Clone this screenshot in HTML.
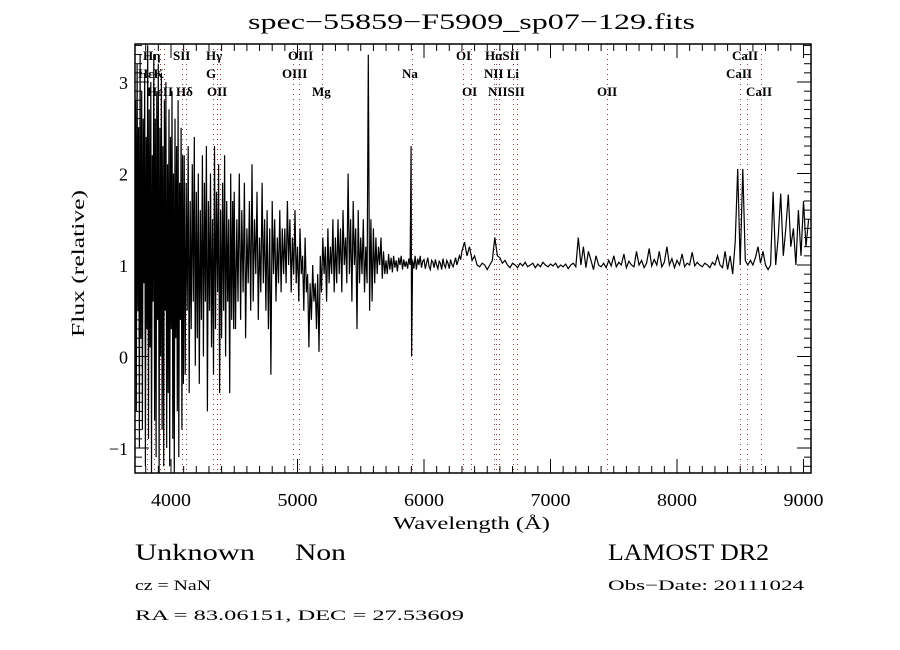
<!DOCTYPE html>
<html><head><meta charset="utf-8"><style>
html,body{margin:0;padding:0;background:#fff;}
svg{display:block;}
text{font-family:"Liberation Serif",serif;fill:#000;}
</style></head><body>
<svg id="chart" width="900" height="650" viewBox="0 0 900 650" xmlns="http://www.w3.org/2000/svg">
<rect width="900" height="650" fill="#fff"/>
<text x="248" y="29" font-size="22" textLength="447" lengthAdjust="spacingAndGlyphs">spec−55859−F5909_sp07−129.fits</text>
<g id="lines"></g>
<g id="spec"></g>
<g id="axes"></g>
<text x="393" y="529" font-size="18" textLength="157" lengthAdjust="spacingAndGlyphs">Wavelength (Å)</text>
<text transform="translate(84,337) rotate(-90)" font-size="18" textLength="147" lengthAdjust="spacingAndGlyphs">Flux (relative)</text>
<text x="135" y="560" font-size="23" textLength="120" lengthAdjust="spacingAndGlyphs">Unknown</text>
<text x="295" y="560" font-size="23" textLength="51" lengthAdjust="spacingAndGlyphs">Non</text>
<text x="608" y="560" font-size="23" textLength="161" lengthAdjust="spacingAndGlyphs">LAMOST DR2</text>
<text x="135" y="590" font-size="15" textLength="76" lengthAdjust="spacingAndGlyphs">cz = NaN</text>
<text x="608" y="590" font-size="15" textLength="196" lengthAdjust="spacingAndGlyphs">Obs−Date: 20111024</text>
<text x="135" y="620" font-size="15" textLength="329" lengthAdjust="spacingAndGlyphs">RA =  83.06151, DEC =  27.53609</text>
</svg>
<script>
// ---- data ----
const segStarts = [3720, 4104, 4500, 4900, 5300, 5700, 5898, 5910, 6300, 6520, 6720, 7220, 7420, 8420, 8580, 8720];
const segSteps  = [6, 8, 10, 10, 10, 10, 4, 10, 20, 20, 20, 20, 20, 20, 20, 20];
const segFlux = [
 [2.8,-0.6,3.2,0.5,2.5,-1.0,3.3,0.2,2.9,-0.8,2.6,0.8,3.1,-1.2,2.4,0.3,3.4,-0.9,2.7,0.1,3.0,-1.3,2.2,0.6,3.3,-0.7,2.6,-1.1,2.9,0.4,3.2,-1.3,2.5,0.0,3.1,-0.8,2.3,-1.2,2.8,0.5,3.0,-1.0,2.1,-0.4,2.7,-1.2,2.4,0.3,2.9,-0.9,2.0,-1.3,2.6,0.2,2.3,-0.6,2.8,-1.1,1.9,0.4,2.5,-0.8,2.2,-0.3],
 [2.2,-0.2,1.9,0.5,2.3,-0.4,1.7,0.3,2.1,0.6,2.4,-0.1,1.8,0.2,2.0,-0.3,1.6,0.4,2.2,0.0,1.9,0.6,2.3,-0.6,1.7,0.5,2.0,0.1,1.5,-0.2,2.3,0.3,1.8,0.7,2.1,-0.4,1.6,0.2,1.9,0.5,2.2,0.0,1.7,0.6,1.5,-0.4,2.0,0.4,1.7,0.3],
 [1.8,0.3,1.5,0.6,2.0,0.4,1.6,0.7,1.9,0.2,1.4,0.8,1.7,0.5,2.1,0.6,1.5,0.9,1.8,0.4,1.3,0.7,1.9,0.8,1.5,0.5,1.6,0.3,1.4,-0.2,1.7,0.9,1.5,0.6,1.3,0.8,1.6,0.7,1.4,0.9],
 [1.4,0.8,1.7,1.0,1.5,0.7,1.3,0.9,1.6,0.8,1.2,0.6,1.4,0.9,1.1,0.5,1.3,0.7,0.9,0.1,0.8,0.4,1.0,0.6,0.8,0.3,0.9,0.05,1.1,0.7,1.3,0.9,1.2,0.6,1.4,0.8,1.2,0.9,1.5,0.7],
 [1.3,0.8,1.5,0.9,1.4,0.7,1.6,1.0,1.3,0.8,2.0,0.9,1.5,0.6,1.7,1.0,1.4,0.3,1.6,0.8,1.3,0.9,1.5,0.7,1.2,0.8,3.3,0.5,1.5,0.6,1.4,0.8,1.3,0.9,1.2,1.0,1.3,0.85,1.15,0.9],
 [1.05,0.9,1.12,0.95,1.08,0.92,1.1,0.97,1.05,0.93,1.08,1.0,1.1,0.95,1.06,0.98,1.04,0.96,1.07,1.0],
 [2.3,0.0],
 [1.05,0.96,1.1,0.95,1.07,1.0,1.1,0.97,1.04,1.06,0.96,1.02,1.08,0.98,0.95,1.05,1.03,0.97,1.06,1.0,0.96,1.04,1.02,0.95,1.07,1.0,0.97,1.05,1.02,0.96,1.06,1.01,0.98,1.03,1.08,1.0,1.05,1.1,1.06],
 [1.15,1.25,1.1,1.2,1.05,1.1,1.0,0.98,1.02,1.0,0.95],
 [1.0,1.05,1.3,1.1,1.08,1.02,1.05,1.0,0.97,1.02],
 [1.0,0.97,1.02,0.99,1.03,0.98,1.0,1.02,0.97,1.01,0.98,1.03,1.0,0.98,1.01,0.99,1.02,0.97,1.0,0.98,1.01,0.96,1.0,1.02,0.98],
 [1.3,1.0,1.2,0.97,1.15,1.05,0.95,1.1,1.0,0.98],
 [1.02,0.97,1.05,0.99,1.1,0.98,1.03,1.0,1.12,0.97,1.04,1.0,0.98,1.15,1.0,1.05,0.97,1.02,1.18,0.99,1.06,1.0,1.15,0.98,1.03,1.2,1.0,1.07,0.97,1.05,1.0,1.12,0.98,1.02,1.0,1.14,0.99,1.03,1.0,0.98,1.02,1.0,0.97,1.03,1.0,1.1,1.0,0.97,1.15,0.95],
 [1.1,0.9,1.25,2.05,1.0,2.05,1.05,1.0],
 [1.05,1.0,1.08,1.2,1.02,1.15,1.0],
 [0.95,1.0,1.8,1.0,1.3,1.78,1.1,1.4,1.77,1.2,1.4,1.0,1.6,1.1,1.7,1.2,1.5]
];
const lineWaves = [3813,3865,3913,3947,4087,4122,4330,4362,4390,4964,5010,5191,5905,6305,6368,6553,6573,6593,6704,6734,7444,8498,8551,8664];
const lineLabels = [
 ["Hη",143,60],["SII",173,60],["Hγ",206,60],["OIII",288,60],["OI",456,60],["HαSII",485,60],["CaII",732,60],
 ["HεK",138,78],["G",206,78],["OIII",282,78],["Na",402,78],["NII Li",484,78],["CaII",726,78],
 ["HeII",147,96],["Hδ",176,96],["OII",207,96],["Mg",312,96],["OI",462,96],["NIISII",488,96],["OII",597,96],["CaII",746,96]
];
const xTicks = [4000,5000,6000,7000,8000,9000];
const yTicks = [-1,0,1,2,3];

// ---- axes ----
const X0=135, X1=811, Y0=44, Y1=473;
const xmin = 4000-36/0.1265, xmax = 4000+640/0.1265;
const ymax = 3+(82-Y0)/91.5, ymin = -1-(Y1-448)/91.5;
function xs(w){return X0+(w-xmin)/(xmax-xmin)*(X1-X0);}
function ys(f){return Y1-(f-ymin)/(ymax-ymin)*(Y1-Y0);}
const NS="http://www.w3.org/2000/svg";
function mk(tag,attrs,parent){const e=document.createElementNS(NS,tag);for(const k in attrs)e.setAttribute(k,attrs[k]);parent.appendChild(e);return e;}

const gl=document.getElementById('lines');
lineWaves.forEach(w=>{
  const x=Math.round(xs(w))+0.5;
  const l=mk('line',{x1:x,x2:x,y1:Y0,y2:Y1,stroke:'#9a3a3a','stroke-width':1,'stroke-dasharray':'1,4'},gl);
  
  
});
lineLabels.forEach(d=>{
  const t=mk('text',{x:d[1],y:d[2],'font-size':13,'font-weight':'bold'},gl);
  t.textContent=d[0];
  
  
});

// ---- spectrum ----
const gs=document.getElementById('spec');
const clip=mk('clipPath',{id:'pc'},gs);
mk('rect',{x:X0,y:Y0,width:X1-X0,height:Y1-Y0},clip);
let pts=[];
segStarts.forEach((s,i)=>{segFlux[i].forEach((f,j)=>{pts.push(xs(s+j*segSteps[i]).toFixed(1)+','+ys(f).toFixed(1));});});
const pl=mk('polyline',{points:pts.join(' '),fill:'none',stroke:'#000','stroke-width':1.2,'clip-path':'url(#pc)'},gs);



// ---- frame & ticks ----
const ga=document.getElementById('axes');
mk('rect',{x:X0,y:Y0,width:X1-X0,height:Y1-Y0,fill:'none',stroke:'#000','stroke-width':1.5},ga);
for(let w=3800;w<=9000;w+=100){
  const major=(w%1000===0), len=major?14:7, x=xs(w);
  mk('line',{x1:x,x2:x,y1:Y1,y2:Y1-len,stroke:'#000','stroke-width':1},ga);
  mk('line',{x1:x,x2:x,y1:Y0,y2:Y0+len,stroke:'#000','stroke-width':1},ga);
}
for(let k=-12;k<=34;k++){
  const f=k/10; if(f<ymin||f>ymax) continue;
  const major=(k%10===0), len=major?14:7, y=ys(f);
  mk('line',{x1:X0,x2:X0+len,y1:y,y2:y,stroke:'#000','stroke-width':1},ga);
  mk('line',{x1:X1,x2:X1-len,y1:y,y2:y,stroke:'#000','stroke-width':1},ga);
}
xTicks.forEach(w=>{
  const t=mk('text',{x:xs(w),y:506,'font-size':18,'text-anchor':'middle',textLength:40,lengthAdjust:'spacingAndGlyphs'},ga);
  t.textContent=String(w);
  
  
});
yTicks.forEach(f=>{
  const t=mk('text',{x:128,y:ys(f)+7,'font-size':18,'text-anchor':'end'},ga);
  t.textContent=f<0?'−'+Math.abs(f):String(f);
  
  
});
</script>
</body></html>
